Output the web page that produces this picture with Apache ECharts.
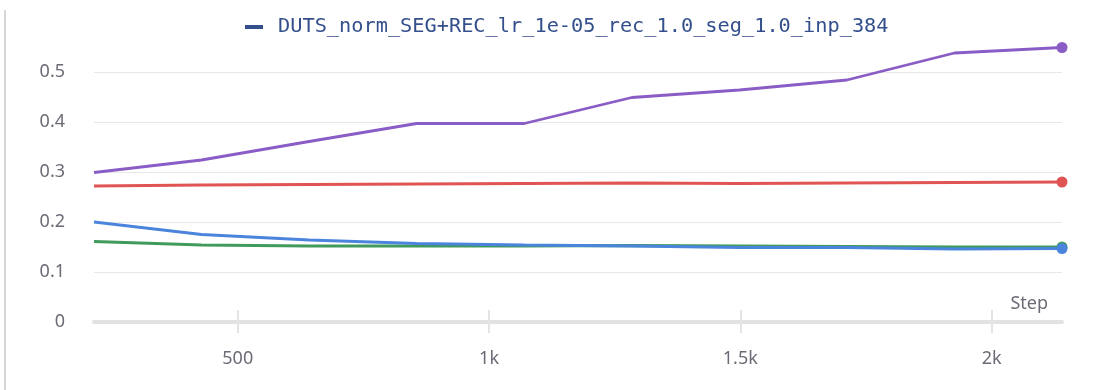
<!DOCTYPE html>
<html>
<head>
<meta charset="utf-8">
<script src="https://cdn.jsdelivr.net/npm/echarts@6/dist/echarts.min.js"></script>
<style>
html,body{margin:0;padding:0;background:#fff;}
#chart{width:1111px;height:390px;}
</style>
</head>
<body>
<div id="chart"></div>
<script>
var legendName = 'DUTS_norm_SEG+REC_lr_1e-05_rec_1.0_seg_1.0_inp_384';
var steps = [214, 428, 642, 856, 1070, 1284, 1498, 1712, 1926, 2140];
var purpleVals = [0.299, 0.324, 0.361, 0.397, 0.397, 0.449, 0.464, 0.484, 0.538, 0.549];
var redVals    = [0.272, 0.274, 0.275, 0.276, 0.277, 0.278, 0.277, 0.278, 0.279, 0.280];
var blueVals   = [0.200, 0.175, 0.164, 0.157, 0.154, 0.152, 0.149, 0.149, 0.146, 0.147];
var greenVals  = [0.161, 0.154, 0.152, 0.152, 0.152, 0.153, 0.152, 0.151, 0.150, 0.150];
var xTicks = [500, 1000, 1500, 2000];
var yTicks = [0, 0.1, 0.2, 0.3, 0.4, 0.5];

function pairs(vals){ return steps.map(function(s,i){ return [s, vals[i]]; }); }
function mkSeries(name, vals, color){
  return {
    name: name, type: 'line', data: pairs(vals), xAxisIndex: 0,
    showSymbol: true, symbol: 'circle', symbolSize: function(v, p){ return p.dataIndex === steps.length-1 ? 11 : 0; },
    lineStyle: {color: color, width: 2.8}, itemStyle: {color: color},
    emphasis: {disabled: true}, z: 3
  };
}
var font = 'Noto Sans';
var chart = echarts.init(document.getElementById('chart'), null, {renderer: 'canvas'});
chart.setOption({
  animation: false,
  grid: {left: 94, right: 49, top: 47, bottom: 68},
  legend: {
    data: [legendName], top: 12, left: 240, icon: 'rect', itemWidth: 18, itemHeight: 4, itemGap: 10,
    textStyle: {fontFamily: 'DejaVu Sans Mono', fontSize: 20.3, color: '#34508c', padding: [0,0,0,10]}
  },
  xAxis: [{
    type: 'value', min: steps[0], max: steps[steps.length-1],
    name: 'Step', nameLocation: 'end', nameGap: -14,
    nameTextStyle: {fontFamily: font, fontSize: 18, color: '#6b6b76', align: 'right', verticalAlign: 'bottom', padding: [0,0,9,0]},
    axisLine: {show: true, lineStyle: {color: '#e2e2e2', width: 4}},
    axisTick: {show: true, length: 11, customValues: xTicks, lineStyle: {color: '#e4e4e4', width: 2}},
    axisLabel: {customValues: xTicks, margin: 28, fontFamily: font, fontSize: 18, color: '#6b6b76',
      formatter: function(v){ return v >= 1000 ? (v/1000) + 'k' : String(v); }},
    splitLine: {show: false}
  },{
    type: 'value', min: steps[0], max: steps[steps.length-1], position: 'bottom',
    axisLine: {show: false},
    axisTick: {show: true, inside: true, length: 12, customValues: xTicks, lineStyle: {color: '#e4e4e4', width: 2}},
    axisLabel: {show: false}, splitLine: {show: false}
  }],
  yAxis: {
    type: 'value', min: 0, max: 0.55,
    axisLine: {show: false}, axisTick: {show: false, customValues: yTicks},
    axisLabel: {customValues: yTicks, margin: 29, fontFamily: font, fontSize: 18, color: '#6b6b76'},
    splitLine: {show: true, lineStyle: {color: '#e8e8e8', width: 1}}
  },
  graphic: [{type: 'line', shape: {x1: 5, y1: 10, x2: 5, y2: 390}, style: {stroke: '#d6d6d6', lineWidth: 2}, silent: true}],
  series: [
    {name: legendName, type: 'line', data: [], itemStyle: {color: '#34508c'}, lineStyle: {color: '#34508c'}},
    mkSeries('run_seg_rec', purpleVals, '#8a5cc6'),
    mkSeries('run_rec', redVals, '#e05454'),
    mkSeries('run_seg_b', greenVals, '#3f9a5c'),
    mkSeries('run_seg', blueVals, '#4b84dc')
  ]
});
</script>
</body>
</html>
